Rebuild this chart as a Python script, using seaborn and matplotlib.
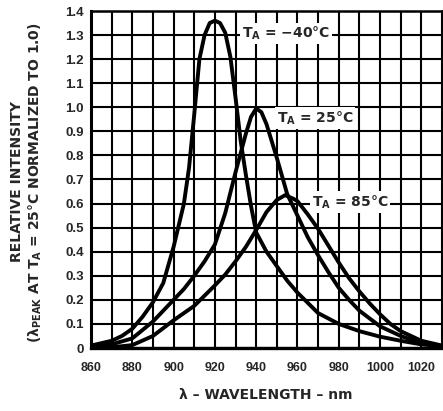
import matplotlib
matplotlib.use("Agg")
import matplotlib.pyplot as plt
import seaborn as sns
import pandas as pd
import numpy as np

# ---- data ----
wl_m40 = [860, 870, 875, 880, 885, 890, 895, 900, 905, 907.5, 910, 912.5, 915, 917.5, 920, 922.5,
          925, 927.5, 930, 932.5, 935, 937.5, 940, 945, 950, 955, 960, 970, 980, 990, 1000,
          1010, 1020, 1030]
int_m40 = [0.01, 0.03, 0.05, 0.08, 0.13, 0.19, 0.27, 0.42, 0.60, 0.75, 0.97, 1.20, 1.30, 1.35, 1.36, 1.35,
           1.31, 1.21, 1.04, 0.86, 0.72, 0.59, 0.48, 0.40, 0.34, 0.28, 0.23, 0.145, 0.10, 0.07, 0.047,
           0.03, 0.015, 0.007]

wl_25 = [860, 870, 880, 890, 900, 905, 910, 915, 920, 925, 930, 935, 937.5, 940, 942.5, 945, 950,
         955, 960, 965, 970, 975, 980, 985, 990, 1000, 1010, 1020, 1030]
int_25 = [0.003, 0.015, 0.04, 0.11, 0.20, 0.245, 0.30, 0.36, 0.43, 0.56, 0.73, 0.89, 0.96, 0.995, 0.98, 0.93, 0.79,
          0.64, 0.55, 0.46, 0.385, 0.315, 0.25, 0.20, 0.155, 0.09, 0.05, 0.02, 0.008]

wl_85 = [860, 870, 880, 890, 900, 910, 920, 925, 930, 935, 940, 945, 950, 954, 958, 960, 965,
         970, 975, 980, 985, 990, 995, 1000, 1005, 1010, 1020, 1030]
int_85 = [0.0, 0.003, 0.012, 0.05, 0.115, 0.175, 0.26, 0.305, 0.36, 0.42, 0.49, 0.565, 0.615, 0.635, 0.62,
          0.61, 0.555, 0.495, 0.425, 0.355, 0.29, 0.235, 0.185, 0.14, 0.10, 0.07, 0.03, 0.01]

series_names = ["-40", "25", "85"]
labels = [r"T$_\mathregular{A}$ = −40°C", r"T$_\mathregular{A}$ = 25°C", r"T$_\mathregular{A}$ = 85°C"]
label_pos = [(933.0, 1.307), (950.0, 0.955), (967.0, 0.607)]

x_ticks = [860, 880, 900, 920, 940, 960, 980, 1000, 1020]
y_ticks = [0, 0.1, 0.2, 0.3, 0.4, 0.5, 0.6, 0.7, 0.8, 0.9, 1.0, 1.1, 1.2, 1.3, 1.4]
y_tick_labels = ["0", "0.1", "0.2", "0.3", "0.4", "0.5", "0.6", "0.7", "0.8", "0.9",
                 "1.0", "1.1", "1.2", "1.3", "1.4"]

df = pd.concat([
    pd.DataFrame({"wl": wl_m40, "val": int_m40, "s": "-40"}),
    pd.DataFrame({"wl": wl_25, "val": int_25, "s": "25"}),
    pd.DataFrame({"wl": wl_85, "val": int_85, "s": "85"}),
])

sns.set_style("white")
plt.rcParams["font.family"] = ["Liberation Sans", "DejaVu Sans"]
plt.rcParams["font.weight"] = "bold"
wide = ["DejaVu Sans"]

fig = plt.figure(figsize=(4.43, 4.11), dpi=100)
ax = fig.add_axes([91 / 443, 63 / 411, 351 / 443, 337 / 411])

sns.lineplot(data=df, x="wl", y="val", hue="s", palette={k: "black" for k in series_names},
             linewidth=2.8, legend=False, ax=ax, sort=False, estimator=None, zorder=3)

ax.set_xlim(860, 1030)
ax.set_ylim(0, 1.4)
ax.set_xticks(x_ticks)
ax.set_xticks(np.arange(860, 1031, 10), minor=True)
ax.set_xticklabels([str(t) for t in x_ticks], fontsize=9, fontweight="bold")
ax.set_yticks(y_ticks)
ax.set_yticklabels(y_tick_labels, fontsize=9.5, fontweight="bold")
ax.tick_params(axis="both", which="both", length=0)
ax.tick_params(axis="x", pad=10)
ax.tick_params(axis="y", pad=5)
ax.grid(True, which="both", color="black", linewidth=1.5)
ax.set_axisbelow(True)
for sp in ax.spines.values():
    sp.set_visible(True)
    sp.set_color("black")
    sp.set_linewidth(1.8)
ax.spines["bottom"].set_linewidth(2.4)
ax.spines["left"].set_linewidth(2.2)
ax.set_xlabel("")
ax.set_ylabel("")

for txt, (x, y) in zip(labels, label_pos):
    ax.text(x, y, txt, ha="left", va="center", fontsize=10, fontweight="bold", family=wide,
            zorder=5, bbox=dict(boxstyle="square,pad=0.15", fc="white", ec="none"))

fig.text(266 / 443, 1 - 395 / 411, "λ – WAVELENGTH – nm", ha="center", va="center",
         fontsize=10, fontweight="bold", family=wide)
fig.text(17 / 443, 1 - 182 / 411, "RELATIVE INTENSITY", rotation=90, ha="center", va="center",
         fontsize=10, fontweight="bold", family=wide)
fig.text(35 / 443, 1 - 183 / 411,
         r"(λ$_\mathregular{PEAK}$ AT T$_\mathregular{A}$ = 25°C NORMALIZED TO 1.0)",
         rotation=90, ha="center", va="center", fontsize=10, fontweight="bold", family=wide)

fig.savefig("out.png", dpi=100, facecolor="white")
